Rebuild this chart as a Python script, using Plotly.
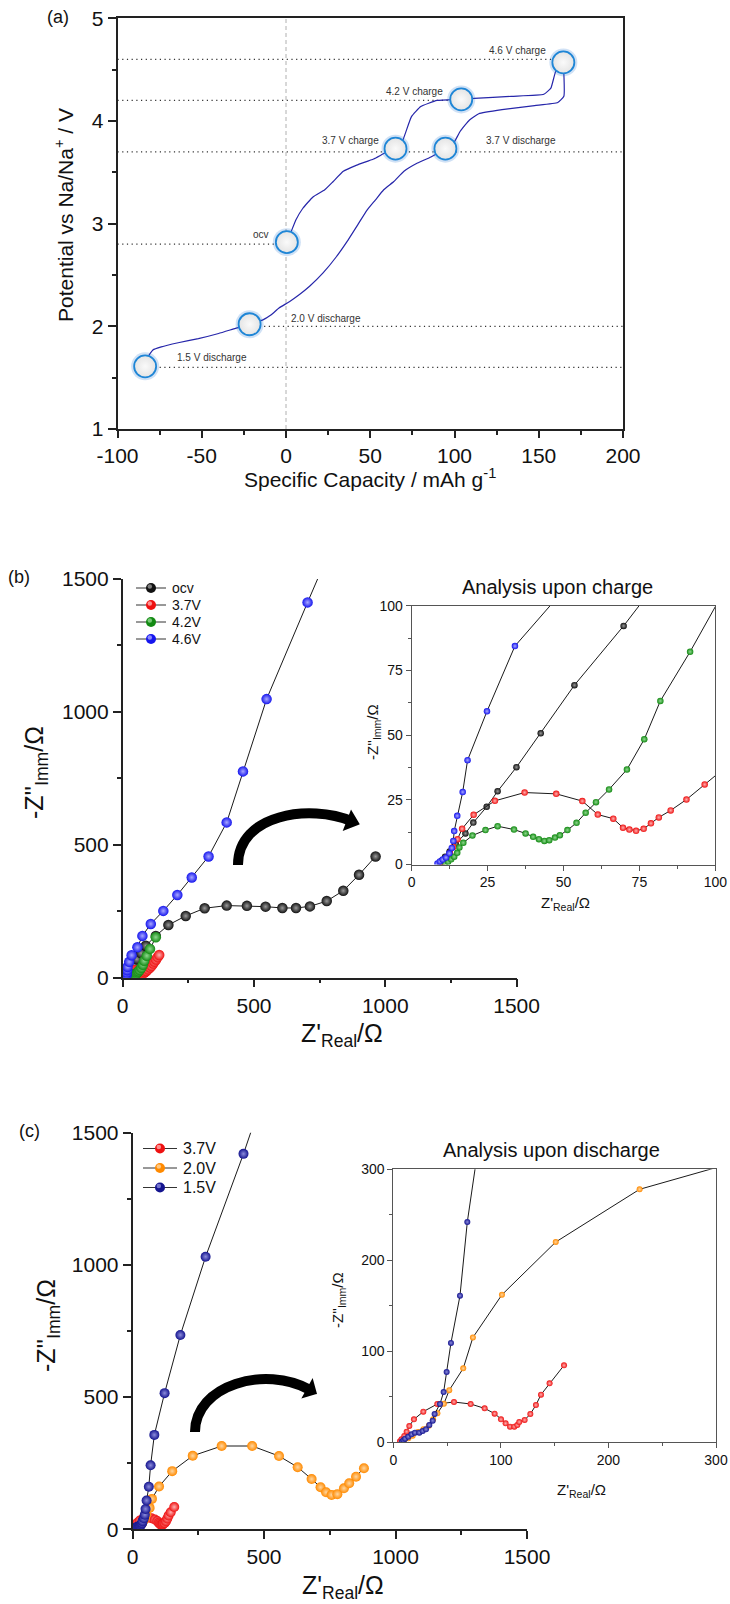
import plotly.graph_objects as go

W, H = 730, 1604
FONT = "Liberation Sans, Arial, Helvetica, sans-serif"


def px(x):
    return x / W


def py(y):
    return 1 - y / H


# ---------------- panel (a): charge / discharge profile ----------------
charge_cap = [0.5, 3, 6, 10, 16, 23, 28, 34, 42, 52, 59, 65, 69, 74.4, 80, 89.6, 104,
              111.7, 133.7, 153, 157.2, 160, 164.6]
charge_pot = [2.82, 2.92, 3.04, 3.15, 3.26, 3.33, 3.41, 3.51, 3.57, 3.63, 3.69, 3.73, 3.80,
              4.04, 4.14, 4.20, 4.21, 4.22, 4.24, 4.26, 4.32, 4.48, 4.57]
discharge_cap = [164.6, 164.9, 161.3, 147.5, 128.2, 114.4, 108.9, 103.4, 99.3, 94.6, 86, 78,
                 70, 64, 58, 53, 48, 43, 36, 30, 22, 14, 8, 2, -4, -9, -14, -21.6, -30, -40,
                 -52, -64, -74, -79, -82, -83.6]
discharge_pot = [4.57, 4.24, 4.18, 4.15, 4.11, 4.07, 4.01, 3.90, 3.78, 3.73, 3.65, 3.59, 3.51,
                 3.41, 3.33, 3.23, 3.13, 3.00, 2.82, 2.68, 2.52, 2.39, 2.31, 2.24, 2.18, 2.11,
                 2.06, 2.02, 1.98, 1.93, 1.88, 1.84, 1.80, 1.77, 1.70, 1.61]
state_cap = [0.5, 65, 104, 164.6, 94.6, -21.6, -83.6]
state_pot = [2.82, 3.73, 4.21, 4.57, 3.73, 2.02, 1.61]
state_text = ["ocv", "3.7 V charge", "4.2 V charge", "4.6 V charge", "3.7 V discharge",
              "2.0 V discharge", "1.5 V discharge"]
state_text_cap = [-15, 38.3, 76.2, 137.1, 139.5, 23.6, -43.9]
state_text_pot = [2.89, 3.81, 4.29, 4.69, 3.81, 2.08, 1.70]
guide_pot = [4.6, 4.2, 3.7, 2.8, 2.0, 1.6]
guide_from = [-100, -100, -100, -100, -13, -75]
guide_to = [159, 98, 200, -7, 200, 200]
cap_ticks = [-100, -50, 0, 50, 100, 150, 200]
cap_tick_text = ["-100", "-50", "0", "50", "100", "150", "200"]

# ---------------- panel (b): impedance upon charge ----------------
ocv_re = [9.3, 10, 11, 12.5, 14.5, 17.7, 20.3, 24.7, 28.3, 34.5, 42.5, 53.6, 69.8, 88, 126,
          174, 240, 312, 396, 473, 544, 608, 660, 713, 777, 840, 900, 963]
ocv_im = [0.5, 1.5, 3, 5, 8, 12, 16.2, 22.3, 28.3, 37.6, 50.7, 69.3, 92.2, 120, 157, 198,
          232, 261, 271, 270, 267, 262, 262, 268, 288, 327, 387, 456]
c37_re = [10.2, 11, 11.7, 12.6, 13.7, 15.1, 16.6, 20.4, 27.4, 37.2, 47.6, 56.2, 61.3, 66.4,
          69.6, 71.7, 73.9, 76.4, 78.8, 81.4, 85.3, 90.5, 96.5, 104, 110, 116, 121, 127,
          133, 139]
c37_im = [1, 1.7, 2.7, 4.3, 6.8, 9.8, 13.8, 19.2, 24.6, 27.8, 27.3, 24.5, 19.3, 17.7, 14.2,
          13.5, 13.0, 13.8, 15.9, 18.2, 20.9, 25.1, 30.9, 38, 44, 53, 60, 68, 77, 85]
c42_re = [11, 12, 13, 14, 15, 15.7, 17, 20, 24.3, 28.3, 33.7, 37.5, 40, 41.9, 43.7, 45.3,
          47.2, 48.8, 51.3, 54.3, 57.3, 60.7, 65, 70.9, 76.6, 81.9, 91.7, 104, 126]
c42_im = [0.4, 1, 2, 3, 4.5, 6.6, 8.4, 11.2, 13.3, 14.8, 13.5, 12, 10.7, 9.8, 9.1, 9.4,
          10.4, 11.3, 13.3, 16.1, 20, 24.1, 29, 36.7, 48.4, 63.2, 82.2, 108, 152]
c46_re = [8.5, 9.3, 10.2, 11.3, 12.4, 13.2, 13.7, 14, 15, 16.8, 18.4, 24.8, 34, 56, 75, 107,
          154.6, 208, 263, 327, 396, 458, 548, 704, 790]
c46_im = [0.4, 1.2, 1.9, 2.7, 4.3, 6.4, 9.1, 12.9, 18.8, 28, 40.3, 59.2, 84.4, 114, 157, 202,
          251, 311, 377, 456, 584, 776, 1048, 1412, 1610]
charge_names = ["ocv", "3.7V", "4.2V", "4.6V"]

# ---------------- panel (c): impedance upon discharge ----------------
d37_re = [6.2, 7.7, 10.2, 12.4, 14.9, 19.2, 27.9, 40.9, 56.4, 71.9, 84.9, 94.2, 100.1, 104.4,
          108.5, 112.5, 115.3, 117.1, 122.1, 127.4, 132.6, 137.3, 145.3, 158.7]
d37_im = [0.7, 2.9, 6.6, 11.4, 17.6, 24.9, 33.4, 41.8, 44, 41.8, 37, 31.2, 24.9, 20.5, 16.9,
          16.9, 18.7, 22, 24.2, 30.8, 40.7, 52.1, 64.5, 84.3]
d20_re = [10, 14, 18, 23, 28, 33, 37, 41, 47, 52, 65, 74, 101, 151, 229, 339, 455, 557, 628,
          681, 715, 736, 757, 779, 804, 824, 850, 880]
d20_im = [1, 4, 7, 11, 14, 18, 25, 31.5, 42, 57, 81, 115, 162, 220, 278, 315, 315, 277, 235,
          190, 159, 140, 130, 133, 155, 174, 199, 231]
d15_re = [8, 9.5, 11, 13.9, 17, 20.1, 24.2, 27.3, 30.4, 33.5, 36.6, 38.4, 43.4, 46.8, 49.6,
          53.6, 62, 68.8, 83, 122, 182, 278, 422, 480]
d15_im = [0.5, 2, 3.7, 5.9, 8.4, 10.3, 10.3, 12.1, 13.9, 18.7, 23.5, 30.8, 41.8, 55, 77, 109,
          161, 242, 357, 515, 735, 1031, 1420, 1590]
discharge_names = ["3.7V", "2.0V", "1.5V"]

# decorative curved arrows (data coordinates of the host panel)
arrow_b = [(439, 424), (439, 616), (713, 654), (873, 588)]
arrow_b_head = [(894.5, 579.5), (847.7, 561.7), (870.5, 619.8)]
arrow_c = [(237.6, 368), (237.6, 546), (503.8, 621.6), (674.9, 527)]
arrow_c_head = [(694.6, 515.9), (653.6, 504.1), (683.2, 557.1)]

fig = go.Figure()

# ---- panel (a) traces ----
fig.add_trace(go.Scatter(x=[0, 0], y=[1, 5], mode="lines", xaxis="x", yaxis="y",
                         line=dict(color="#b0b0b0", width=1, dash="4px,3px"),
                         showlegend=False, hoverinfo="skip"))
for lev, a, b in zip(guide_pot, guide_from, guide_to):
    fig.add_trace(go.Scatter(x=[a, b], y=[lev, lev], mode="lines", xaxis="x", yaxis="y",
                             line=dict(color="#333333", width=1.2, dash="1.2px,3.5px"),
                             showlegend=False, hoverinfo="skip"))
for cx, cy in ((charge_cap, charge_pot), (discharge_cap, discharge_pot)):
    fig.add_trace(go.Scatter(x=cx, y=cy, mode="lines", xaxis="x", yaxis="y",
                             line=dict(color="#2626aa", width=1.2, shape="spline",
                                       smoothing=0.4),
                             showlegend=False))
fig.add_trace(go.Scatter(x=state_cap, y=state_pot, mode="markers", xaxis="x", yaxis="y",
                         marker=dict(size=28, color="rgba(40,120,210,0.22)", line=dict(width=0)),
                         showlegend=False, hoverinfo="skip"))
fig.add_trace(go.Scatter(x=state_cap, y=state_pot, mode="markers", xaxis="x", yaxis="y",
                         marker=dict(size=22, color="#e4e4e4",
                                     gradient=dict(type="radial", color="#fafafa"),
                                     line=dict(width=1.8, color="#1f86d6")),
                         showlegend=False))


# ---- panel (b) & (c) traces ----
def sphere_trace(x, y, color, light, size, xa, ya, name):
    return go.Scatter(x=x, y=y, mode="lines+markers", xaxis=xa, yaxis=ya, name=name,
                      showlegend=False,
                      line=dict(color="#1a1a1a", width=1),
                      marker=dict(size=size, color=color,
                                  gradient=dict(type="radial", color=light),
                                  line=dict(width=0)))


charge_sets = [(ocv_re, ocv_im, "#111111", "#9a9a9a"),
               (c37_re, c37_im, "#ee1111", "#ffb0b0"),
               (c42_re, c42_im, "#138a13", "#8fd88f"),
               (c46_re, c46_im, "#1515ee", "#a8a8ff")]
for (xr, yi, col, lt), nm in zip(charge_sets, charge_names):
    fig.add_trace(sphere_trace(xr, yi, col, lt, 10.5, "x2", "y2", nm))
for (xr, yi, col, lt), nm in zip(charge_sets, charge_names):
    fig.add_trace(sphere_trace(xr, yi, col, lt, 6.5, "x3", "y3", nm))

discharge_sets = [(d37_re, d37_im, "#ee1111", "#ffb0b0"),
                  (d20_re, d20_im, "#ff8a00", "#ffd6a0"),
                  (d15_re, d15_im, "#14148f", "#8c8cdc")]
for (xr, yi, col, lt), nm in zip(discharge_sets, discharge_names):
    fig.add_trace(sphere_trace(xr, yi, col, lt, 10, "x4", "y4", nm))
for (xr, yi, col, lt), nm in zip(discharge_sets, discharge_names):
    fig.add_trace(sphere_trace(xr, yi, col, lt, 6, "x5", "y5", nm))


# ---- axes ----
def axis(dom, rng, dtick, mdtick, anchor, size, tlen=8, mlen=4, lw=1.5, mirror=False,
         tick0=0, color="#222222"):
    return dict(domain=dom, range=rng, dtick=dtick, tick0=tick0, anchor=anchor,
                automargin=False,
                showgrid=False, zeroline=False, showline=True, linecolor=color, linewidth=lw,
                mirror=mirror, ticks="outside", ticklen=tlen, tickwidth=lw, tickcolor=color,
                tickfont=dict(family=FONT, size=size, color="#111111"), fixedrange=True,
                minor=dict(dtick=mdtick, tick0=tick0, ticks="outside", ticklen=mlen,
                           tickwidth=lw, tickcolor=color, showgrid=False))


xa = axis([px(117.5), px(623)], [-100, 200], 50, 25, "y", 21, tlen=7, mirror=True,
          tick0=-100, lw=1.6)
xa.update(tickmode="array", tickvals=cap_ticks, ticktext=cap_tick_text)

fig.update_layout(
    template="none",
    width=W, height=H, autosize=False, showlegend=False,
    margin=dict(l=0, r=0, t=0, b=0, pad=0),
    paper_bgcolor="white", plot_bgcolor="rgba(0,0,0,0)",
    font=dict(family=FONT, color="#111111"),
    xaxis=xa,
    yaxis=axis([py(429), py(18.3)], [1, 5], 1, 0.5, "x", 21, tlen=8, mirror=True, tick0=1,
               lw=1.6),
    xaxis2=axis([px(122.7), px(516.6)], [0, 1500], 500, 250, "y2", 21, tlen=8, lw=1.6),
    yaxis2=axis([py(977.6), py(579)], [0, 1500], 500, 250, "x2", 21, tlen=8, lw=1.6),
    xaxis3=axis([px(411.7), px(715.3)], [0, 100], 25, 12.5, "y3", 14, tlen=5, mlen=3, lw=1,
                mirror=True, color="#555555"),
    yaxis3=axis([py(864.5), py(605.7)], [0, 100], 25, 12.5, "x3", 14, tlen=5, mlen=3, lw=1,
                mirror=True, color="#555555"),
    xaxis4=axis([px(132.5), px(527)], [0, 1500], 500, 250, "y4", 21, tlen=8, lw=1.6),
    yaxis4=axis([py(1529.3), py(1132.7)], [0, 1500], 500, 250, "x4", 21, tlen=8, lw=1.6),
    xaxis5=axis([px(393.3), px(716)], [0, 300], 100, 50, "y5", 14, tlen=5, mlen=3, lw=1,
                mirror=True, color="#555555"),
    yaxis5=axis([py(1442), py(1169.3)], [0, 300], 100, 50, "x5", 14, tlen=5, mlen=3, lw=1,
                mirror=True, color="#555555"),
)


# ---- arrows ----
def arrow_shapes(pts, head, xr, yr):
    (x0, y0), (x1, y1), (x2, y2), (x3, y3) = pts
    body = dict(type="path", xref=xr, yref=yr, layer="above",
                path=f"M {x0},{y0} C {x1},{y1} {x2},{y2} {x3},{y3}",
                line=dict(color="black", width=10))
    (hx, hy), (ax_, ay_), (bx, by) = head
    tip = dict(type="path", xref=xr, yref=yr, layer="above",
               path=f"M {hx},{hy} L {ax_},{ay_} L {bx},{by} Z",
               fillcolor="black", line=dict(color="black", width=3))
    return [body, tip]


shapes = arrow_shapes(arrow_b, arrow_b_head, "x2", "y2") + \
    arrow_shapes(arrow_c, arrow_c_head, "x4", "y4")


# ---- hand-placed legends (line + sphere marker + label) ----
def legend_entry(xl, xr, yc, color, light, r):
    xm = (xl + xr) / 2
    out = [dict(type="line", xref="paper", yref="paper", x0=px(xl), x1=px(xr), y0=py(yc),
                y1=py(yc), line=dict(color="#333333", width=1), layer="above"),
           dict(type="circle", xref="paper", yref="paper", xsizemode="pixel",
                ysizemode="pixel", xanchor=px(xm), yanchor=py(yc), x0=-r, x1=r, y0=-r, y1=r,
                fillcolor=color, line=dict(width=0), layer="above"),
           dict(type="circle", xref="paper", yref="paper", xsizemode="pixel",
                ysizemode="pixel", xanchor=px(xm - 1.2), yanchor=py(yc - 1.5),
                x0=-r * 0.45, x1=r * 0.45, y0=-r * 0.45, y1=r * 0.45,
                fillcolor=light, opacity=0.8, line=dict(width=0), layer="above")]
    return out


ann = []
legend_b_rows = [588, 605, 622, 639]
for (xr_, yi, col, lt), nm, yc in zip(charge_sets, charge_names, legend_b_rows):
    shapes += legend_entry(136, 166, yc, col, lt, 5)
    ann.append(dict(text=nm, x=px(170), y=py(yc), xref="paper", yref="paper",
                    xanchor="left", yanchor="middle", showarrow=False,
                    font=dict(family=FONT, size=14, color="#111111")))
legend_c_rows = [1148.5, 1168, 1187.5]
for (xr_, yi, col, lt), nm, yc in zip(discharge_sets, discharge_names, legend_c_rows):
    shapes += legend_entry(143, 177, yc, col, lt, 5)
    ann.append(dict(text=nm, x=px(181), y=py(yc), xref="paper", yref="paper",
                    xanchor="left", yanchor="middle", showarrow=False,
                    font=dict(family=FONT, size=16, color="#111111")))

fig.update_layout(shapes=shapes)

# ---- text ----
for t, xx, yy in zip(state_text, state_text_cap, state_text_pot):
    ann.append(dict(text=t, x=xx, y=yy, xref="x", yref="y", showarrow=False,
                    font=dict(family=FONT, size=10, color="#333333")))


def paper_text(t, x, y, size, angle=0):
    return dict(text=t, x=px(x), y=py(y), xref="paper", yref="paper", showarrow=False,
                textangle=angle, xanchor="center", yanchor="middle",
                font=dict(family=FONT, size=size, color="#111111"))


ann += [
    paper_text("(a)", 58, 17, 18),
    paper_text("(b)", 19, 577, 18),
    paper_text("(c)", 29, 1131, 18),
    paper_text("Specific Capacity / mAh g<sup>-1</sup>", 370, 478, 21),
    paper_text("Potential vs Na/Na<sup>+</sup> / V", 64, 215, 21, -90),
    paper_text("-Z''<sub>Imm</sub>/Ω", 36, 773, 25, -90),
    paper_text("Z'<sub>Real</sub>/Ω", 342, 1035, 25),
    paper_text("-Z''<sub>Imm</sub>/Ω", 373, 732, 15, -90),
    paper_text("Z'<sub>Real</sub>/Ω", 565, 903, 15),
    paper_text("Analysis upon charge", 557, 587, 20),
    paper_text("-Z''<sub>Imm</sub>/Ω", 48, 1325, 25, -90),
    paper_text("Z'<sub>Real</sub>/Ω", 343, 1587, 25),
    paper_text("-Z''<sub>Imm</sub>/Ω", 338, 1300, 15, -90),
    paper_text("Z'<sub>Real</sub>/Ω", 581, 1490, 15),
    paper_text("Analysis upon discharge", 551, 1150, 20),
]
fig.update_layout(annotations=ann)

fig.write_html(
    "out.html",
    config={"displayModeBar": False, "staticPlot": False},
    post_script="document.body.style.margin='0';document.body.style.overflow='hidden';",
)
